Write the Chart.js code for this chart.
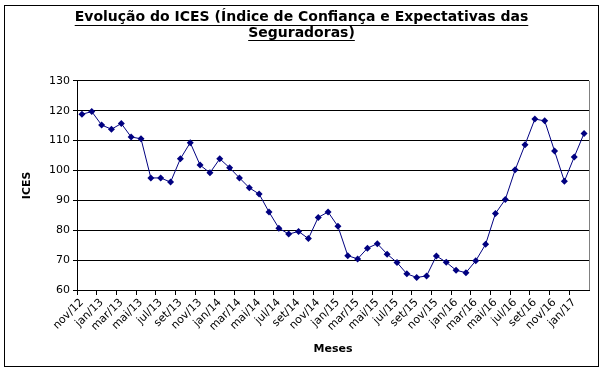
<!DOCTYPE html>
<html>
<head>
<meta charset="utf-8">
<script src="https://cdn.jsdelivr.net/npm/chart.js@4"></script>
<style>
  html, body { margin: 0; padding: 0; background: #fff; }
  #wrap { width: 605px; height: 372px; position: relative; }
</style>
</head>
<body>
<div id="wrap"><canvas id="grafico" width="605" height="372"></canvas></div>
<script>
// meses (nov/12 .. fev/17)
const meses = [
  'nov/12', 'dez/12',
  'jan/13', 'fev/13', 'mar/13', 'abr/13', 'mai/13', 'jun/13', 'jul/13', 'ago/13', 'set/13', 'out/13', 'nov/13', 'dez/13',
  'jan/14', 'fev/14', 'mar/14', 'abr/14', 'mai/14', 'jun/14', 'jul/14', 'ago/14', 'set/14', 'out/14', 'nov/14', 'dez/14',
  'jan/15', 'fev/15', 'mar/15', 'abr/15', 'mai/15', 'jun/15', 'jul/15', 'ago/15', 'set/15', 'out/15', 'nov/15', 'dez/15',
  'jan/16', 'fev/16', 'mar/16', 'abr/16', 'mai/16', 'jun/16', 'jul/16', 'ago/16', 'set/16', 'out/16', 'nov/16', 'dez/16',
  'jan/17', 'fev/17'
];

// valores do ICES
const ices = [
  118.8, 119.7,
  115.2, 113.8, 115.7, 111.2, 110.6, 97.5, 97.5, 96.1, 103.9, 109.3, 101.8, 99.2,
  103.9, 100.9, 97.5, 94.2, 92.1, 86.1, 80.7, 78.7, 79.6, 77.2, 84.3, 86.1,
  81.3, 71.5, 70.4, 74.0, 75.5, 72.0, 69.2, 65.4, 64.2, 64.7, 71.4, 69.3,
  66.6, 65.8, 69.8, 75.3, 85.6, 90.3, 100.2, 108.6, 117.2, 116.6, 106.5, 96.4,
  104.5, 112.4
];

const tituloLinhas = ['Evolução do ICES (Índice de Confiança e Expectativas das', 'Seguradoras)'];
const yMin = 60, yMax = 130, yPasso = 10;

const FONTE = "'DejaVu Sans', sans-serif";
const TITULO_FONTE = { family: FONTE, size: 14, weight: 'bold', lineHeight: 1.1 };

// sublinhado do titulo + moldura externa + borda direita da area do grafico
const extras = {
  id: 'extras',
  afterDraw(chart) {
    const ctx = chart.ctx;
    const tb = chart.titleBlock;
    const lh = TITULO_FONTE.size * TITULO_FONTE.lineHeight;
    ctx.save();
    ctx.font = `bold ${TITULO_FONTE.size}px ${FONTE}`;
    ctx.strokeStyle = '#000';
    ctx.lineWidth = 1;
    const cx = (tb.left + tb.right) / 2;
    tituloLinhas.forEach((linha, i) => {
      const w = ctx.measureText(linha).width;
      const y = Math.round(tb.top + tb.options.padding.top + lh / 2 + i * lh + TITULO_FONTE.size / 2) + 0.5;
      ctx.beginPath();
      ctx.moveTo(cx - w / 2, y);
      ctx.lineTo(cx + w / 2, y);
      ctx.stroke();
    });
    const a = chart.chartArea;
    ctx.strokeStyle = '#808080';
    ctx.beginPath();
    ctx.moveTo(Math.round(a.right) + 0.5, a.top);
    ctx.lineTo(Math.round(a.right) + 0.5, a.bottom);
    ctx.stroke();
    ctx.strokeStyle = '#000';
    ctx.strokeRect(4.5, 5.5, 594, 361);
    ctx.restore();
  }
};

new Chart(document.getElementById('grafico'), {
  type: 'line',
  data: {
    labels: meses,
    datasets: [{
      label: 'ICES',
      data: ices,
      borderColor: '#000080',
      backgroundColor: '#000080',
      borderWidth: 1,
      pointStyle: 'rectRot',
      pointRadius: 3.5,
      pointBorderWidth: 0,
      tension: 0
    }]
  },
  options: {
    responsive: false,
    animation: false,
    layout: { padding: { left: 14, right: 16, top: 6, bottom: 14 } },
    plugins: {
      legend: { display: false },
      tooltip: { enabled: false },
      title: {
        display: true,
        text: tituloLinhas,
        color: '#000',
        font: TITULO_FONTE,
        padding: { top: 4, bottom: 40 }
      }
    },
    scales: {
      x: {
        offset: true,
        afterFit(s) { s.height = 68; },
        grid: {
          offset: true,
          drawOnChartArea: false,
          tickLength: 5,
          color: c => (c.index % 2 === 0 ? '#000' : 'rgba(0,0,0,0)')
        },
        border: { color: '#000' },
        ticks: {
          autoSkip: false,
          minRotation: 45,
          maxRotation: 45,
          padding: 1,
          color: '#000',
          font: { family: FONTE, size: 11 },
          callback: (v, i) => (i % 2 === 0 ? meses[i] : '')
        },
        title: {
          display: true,
          text: 'Meses',
          color: '#000',
          font: { family: FONTE, size: 11, weight: 'bold' },
          padding: { top: 0, bottom: 2 }
        }
      },
      y: {
        min: yMin,
        max: yMax,
        afterFit(s) { s.width = 63; },
        grid: { color: '#000', tickLength: 4 },
        border: { color: '#000' },
        ticks: {
          stepSize: yPasso,
          padding: 3,
          color: '#000',
          font: { family: FONTE, size: 11 }
        },
        title: {
          display: true,
          text: 'ICES',
          color: '#000',
          font: { family: FONTE, size: 11, weight: 'bold' },
          padding: { top: 7, bottom: 0 }
        }
      }
    }
  },
  plugins: [extras]
});
</script>
</body>
</html>
